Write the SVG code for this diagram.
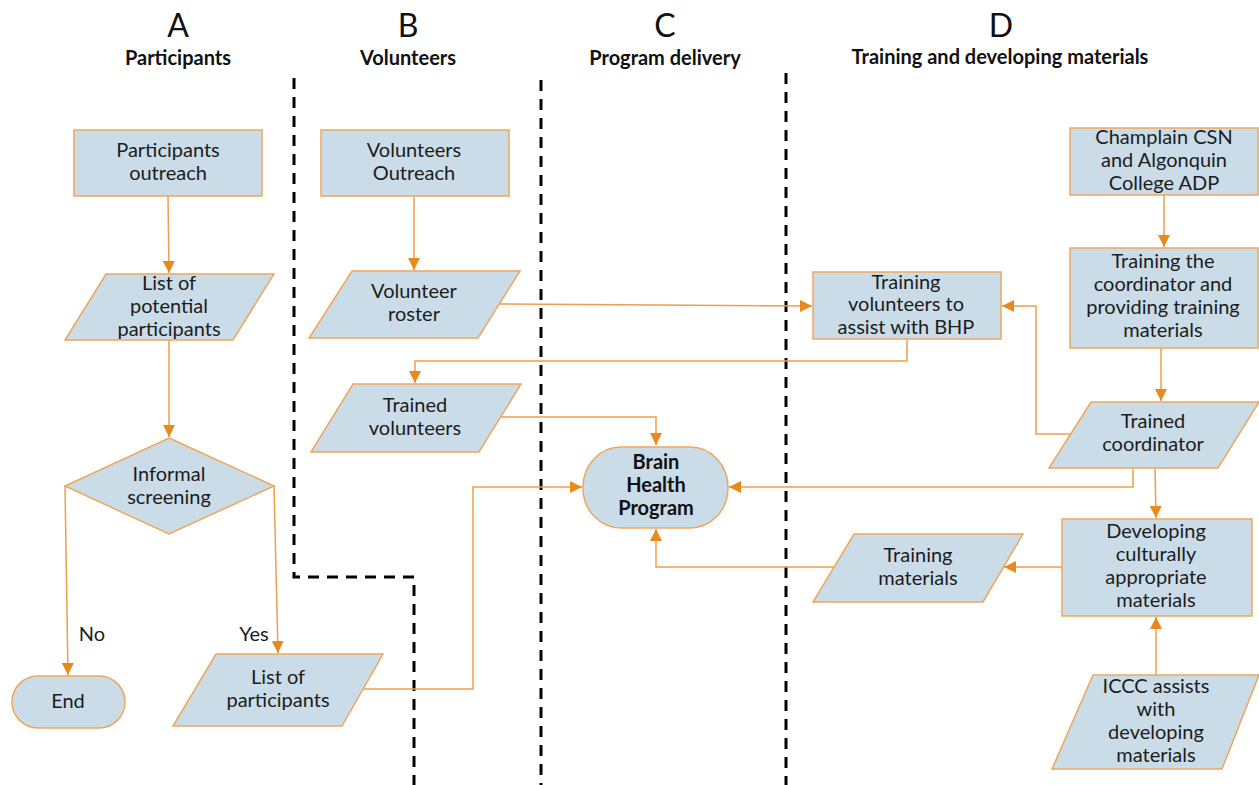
<svg xmlns="http://www.w3.org/2000/svg" width="1259" height="785" viewBox="0 0 1259 785">
<defs>
<style>
.n{fill:#CADCE8;stroke:#F0A65A;stroke-width:1.5}
.t{font-family:Lato,"Open Sans",sans-serif;font-size:20px;fill:#1c1c1c;text-anchor:middle}
.tb{font-family:Lato,"Open Sans",sans-serif;font-size:20px;font-weight:bold;fill:#111;text-anchor:middle}
.h1{font-family:Lato,"Open Sans",sans-serif;font-size:32px;fill:#111;text-anchor:middle}
.h2{font-family:Lato,"Open Sans",sans-serif;font-size:20px;font-weight:bold;fill:#111;text-anchor:middle}
.c{fill:none;stroke:#EE9E4E;stroke-width:1.5}
.d{fill:none;stroke:#000;stroke-width:3;stroke-dasharray:11 8}
</style>
<marker id="ah" viewBox="0 0 10 10" refX="10" refY="5" markerWidth="12" markerHeight="12" orient="auto" markerUnits="userSpaceOnUse">
<path d="M0,0 L10,5 L0,10 z" fill="#E8891E"/>
</marker>
</defs>
<rect width="1259" height="785" fill="#fff"/>

<g id="headers">
<text class="h1" x="178" y="37">A</text>
<text class="h2" x="178" y="65">Participants</text>
<text class="h1" x="408" y="37">B</text>
<text class="h2" x="408" y="65">Volunteers</text>
<text class="h1" x="665" y="37">C</text>
<text class="h2" x="665" y="65">Program delivery</text>
<text class="h1" x="1001" y="37">D</text>
<text class="h2" x="1000" y="64">Training and developing materials</text>
</g>

<g id="lanes">
<path class="d" d="M294,78 V577 H414 V785"/>
<path class="d" d="M541,80 V785"/>
<path class="d" d="M786,73 V785"/>
</g>

<g id="connectors">
<path class="c" d="M168,196 L169,273" marker-end="url(#ah)"/>
<path class="c" d="M169,340 V437" marker-end="url(#ah)"/>
<path class="c" d="M65,486 L68,675" marker-end="url(#ah)"/>
<path class="c" d="M274,486 L278,653" marker-end="url(#ah)"/>
<path class="c" d="M414,196 V270" marker-end="url(#ah)"/>
<path class="c" d="M500,304 L812,306" marker-end="url(#ah)"/>
<path class="c" d="M907,339 V361 H415 V383" marker-end="url(#ah)"/>
<path class="c" d="M500,417 H656 V445" marker-end="url(#ah)"/>
<path class="c" d="M362,689 H473 V487 H582" marker-end="url(#ah)"/>
<path class="c" d="M1133,468 V487 H729" marker-end="url(#ah)"/>
<path class="c" d="M1070,434 H1036 V306 H1002" marker-end="url(#ah)"/>
<path class="c" d="M1164,195 V247" marker-end="url(#ah)"/>
<path class="c" d="M1161,348 V401" marker-end="url(#ah)"/>
<path class="c" d="M1155,468 L1156,518" marker-end="url(#ah)"/>
<path class="c" d="M1062,567 H1004" marker-end="url(#ah)"/>
<path class="c" d="M836,567 H656 V529" marker-end="url(#ah)"/>
<path class="c" d="M1156,675 V617" marker-end="url(#ah)"/>
</g>
<g id="labels">
<text class="t" x="92" y="641">No</text>
<text class="t" x="254" y="641">Yes</text>
</g>

<g id="participants-outreach">
<rect class="n" x="74" y="130" width="188" height="66"/>
<text class="t" x="168" y="157">Participants</text>
<text class="t" x="168" y="180">outreach</text>
</g>

<g id="potential-participants">
<polygon class="n" points="106,274 274,274 233,340 65,340"/>
<text class="t" x="169" y="290">List of</text>
<text class="t" x="169" y="313">potential</text>
<text class="t" x="169" y="336">participants</text>
</g>

<g id="informal-screening">
<polygon class="n" points="169,438 274,486 169,534 65,486"/>
<text class="t" x="169" y="481">Informal</text>
<text class="t" x="169" y="504">screening</text>
</g>

<g id="end">
<rect class="n" x="12" y="676" width="113" height="52" rx="26" ry="26"/>
<text class="t" x="68" y="708">End</text>
</g>

<g id="list-participants">
<polygon class="n" points="216,654 383,654 342,726 173,726"/>
<text class="t" x="278" y="684">List of</text>
<text class="t" x="278" y="707">participants</text>
</g>

<g id="volunteers-outreach">
<rect class="n" x="321" y="130" width="188" height="66"/>
<text class="t" x="414" y="157">Volunteers</text>
<text class="t" x="414" y="180">Outreach</text>
</g>

<g id="volunteer-roster">
<polygon class="n" points="352,271 520,271 478,338 309,338"/>
<text class="t" x="414" y="298">Volunteer</text>
<text class="t" x="414" y="321">roster</text>
</g>

<g id="trained-volunteers">
<polygon class="n" points="353,384 521,384 479,452 311,452"/>
<text class="t" x="415" y="412">Trained</text>
<text class="t" x="415" y="435">volunteers</text>
</g>

<g id="training-volunteers">
<rect class="n" x="813" y="272" width="188" height="67"/>
<text class="t" x="906" y="289">Training</text>
<text class="t" x="906" y="311">volunteers to</text>
<text class="t" x="906" y="334">assist with BHP</text>
</g>

<g id="brain-health-program">
<rect class="n" x="583" y="447" width="145" height="81" rx="38" ry="40"/>
<text class="tb" x="656" y="469">Brain</text>
<text class="tb" x="656" y="492">Health</text>
<text class="tb" x="656" y="515">Program</text>
</g>

<g id="champlain">
<rect class="n" x="1070" y="128" width="188" height="67"/>
<text class="t" x="1164" y="144">Champlain CSN</text>
<text class="t" x="1164" y="167">and Algonquin</text>
<text class="t" x="1164" y="190">College ADP</text>
</g>

<g id="training-coordinator">
<rect class="n" x="1070" y="248" width="188" height="100"/>
<text class="t" x="1163" y="268">Training the</text>
<text class="t" x="1163" y="291">coordinator and</text>
<text class="t" x="1163" y="314">providing training</text>
<text class="t" x="1163" y="337">materials</text>
</g>

<g id="trained-coordinator">
<polygon class="n" points="1091,402 1259,402 1218,468 1049,468"/>
<text class="t" x="1153" y="428">Trained</text>
<text class="t" x="1153" y="451">coordinator</text>
</g>

<g id="developing-materials">
<rect class="n" x="1062" y="519" width="190" height="97"/>
<text class="t" x="1156" y="538">Developing</text>
<text class="t" x="1156" y="561">culturally</text>
<text class="t" x="1156" y="584">appropriate</text>
<text class="t" x="1156" y="607">materials</text>
</g>

<g id="training-materials">
<polygon class="n" points="854,534 1023,534 983,602 813,602"/>
<text class="t" x="918" y="562">Training</text>
<text class="t" x="918" y="585">materials</text>
</g>

<g id="iccc">
<polygon class="n" points="1093,675 1259,675 1222,769 1052,769"/>
<text class="t" x="1156" y="693">ICCC assists</text>
<text class="t" x="1156" y="716">with</text>
<text class="t" x="1156" y="739">developing</text>
<text class="t" x="1156" y="762">materials</text>
</g>
</svg>
